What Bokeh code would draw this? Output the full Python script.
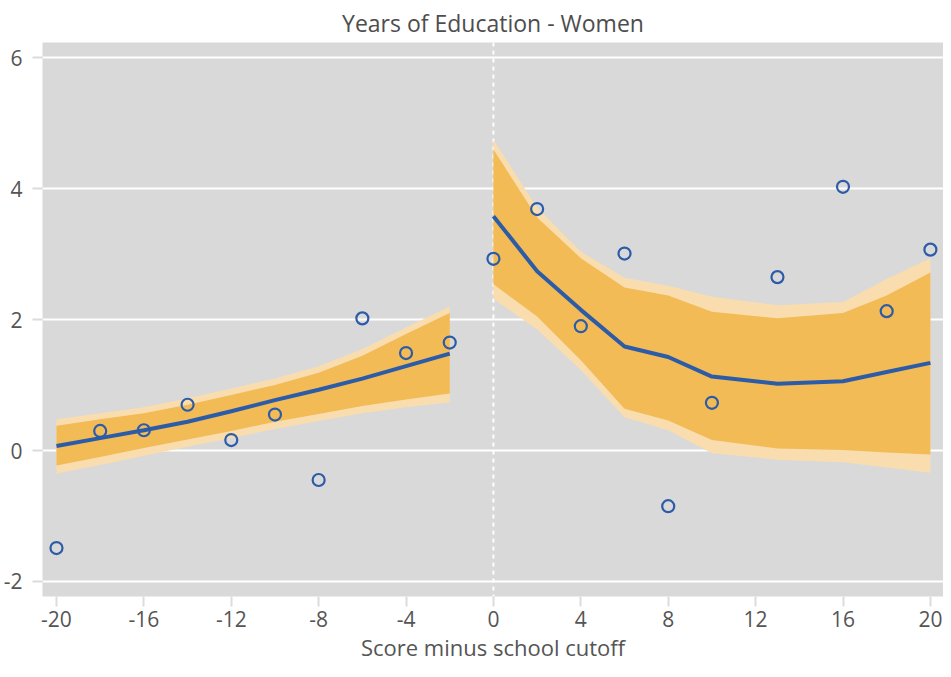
from bokeh.plotting import figure
from bokeh.models import ColumnDataSource, FixedTicker, Span, Range1d, Title
from bokeh.embed import file_html
from bokeh.resources import INLINE

# ---- data ----
left_x = [-20, -18, -16, -14, -12, -10, -8, -6, -4, -2]
left_pts = [-1.49, 0.30, 0.31, 0.70, 0.16, 0.55, -0.45, 2.02, 1.49, 1.65]
left_fit = [0.07, 0.19, 0.31, 0.44, 0.60, 0.77, 0.93, 1.10, 1.29, 1.48]
left_outer_hi = [0.48, 0.57, 0.66, 0.80, 0.95, 1.10, 1.29, 1.55, 1.88, 2.20]
left_inner_hi = [0.38, 0.48, 0.57, 0.70, 0.85, 1.00, 1.19, 1.45, 1.78, 2.10]
left_inner_lo = [-0.23, -0.10, 0.04, 0.17, 0.30, 0.44, 0.56, 0.68, 0.78, 0.87]
left_outer_lo = [-0.35, -0.22, -0.08, 0.06, 0.19, 0.33, 0.45, 0.57, 0.66, 0.74]

right_x = [0, 2, 4, 6, 8, 10, 13, 16, 18, 20]
right_pts = [2.93, 3.69, 1.90, 3.01, -0.85, 0.73, 2.65, 4.03, 2.13, 3.07]
right_fit = [3.58, 2.74, 2.15, 1.59, 1.43, 1.13, 1.02, 1.06, 1.20, 1.34]
right_outer_hi = [4.75, 3.71, 3.04, 2.64, 2.52, 2.35, 2.22, 2.27, 2.62, 2.94]
right_inner_hi = [4.60, 3.56, 2.94, 2.49, 2.37, 2.12, 2.02, 2.10, 2.37, 2.72]
right_inner_lo = [2.54, 2.05, 1.38, 0.64, 0.46, 0.16, 0.03, 0.01, -0.03, -0.06]
right_outer_lo = [2.32, 1.85, 1.23, 0.51, 0.31, -0.04, -0.14, -0.18, -0.26, -0.34]

x_ticks = [-20, -16, -12, -8, -4, 0, 4, 8, 12, 16, 20]
y_ticks = [-2, 0, 2, 4, 6]

title_text = "Years of Education - Women"
x_label = "Score minus school cutoff"

# ---- style ----
FONT = "Open Sans"
TXT = "#555555"
BLUE = "#2c5ba8"
INNER = "#f2bb56"
OUTER = "#f9ddae"

p = figure(width=943, height=661, output_backend="svg", toolbar_location=None,
           x_range=Range1d(-20.64, 20.6), y_range=Range1d(-2.23, 6.235),
           title=title_text, min_border_left=42, min_border_right=0,
           min_border_top=10, min_border_bottom=0)

p.background_fill_color = "#d9d9d9"
p.border_fill_color = "white"
p.outline_line_color = None

p.title.align = "center"
p.title.text_font = FONT
p.title.text_font_size = "23px"
p.title.text_font_style = "normal"
p.title.text_color = "#4d4d4d"
p.title.offset = 0
p.title.standoff = 8

p.xgrid.grid_line_color = None
p.ygrid.grid_line_color = "white"
p.ygrid.grid_line_width = 2
p.ygrid.ticker = FixedTicker(ticks=y_ticks)

for ax in (p.xaxis[0], p.yaxis[0]):
    ax.axis_line_color = None
    ax.major_tick_line_color = "#dcdcdc"
    ax.major_tick_line_width = 2
    ax.major_tick_out = 10
    ax.major_tick_in = 0
    ax.minor_tick_line_color = None
    ax.major_label_text_font = FONT
    ax.major_label_text_font_size = "21px"
    ax.major_label_text_color = TXT

p.xaxis.ticker = FixedTicker(ticks=x_ticks)
p.yaxis.ticker = FixedTicker(ticks=y_ticks)
p.xaxis.major_label_overrides = {t: str(t) for t in x_ticks}
p.yaxis.major_label_overrides = {t: str(t) for t in y_ticks}
p.xaxis.major_label_standoff = 4
p.yaxis.major_label_standoff = 10

xtitle = Title(text=x_label, align="center", text_font=FONT, text_font_size="22px",
               text_font_style="normal", text_color=TXT, standoff=0, offset=0)
p.add_layout(xtitle, "below")

vline = Span(location=0, dimension="height", line_color="white",
             line_width=2, line_dash="4 4", level="underlay")
p.add_layout(vline)

for xs, pts, fit, ohi, ihi, ilo, olo in [
    (left_x, left_pts, left_fit, left_outer_hi, left_inner_hi, left_inner_lo, left_outer_lo),
    (right_x, right_pts, right_fit, right_outer_hi, right_inner_hi, right_inner_lo, right_outer_lo),
]:
    src = ColumnDataSource(dict(x=xs, pts=pts, fit=fit, ohi=ohi, ihi=ihi, ilo=ilo, olo=olo))
    p.varea(x="x", y1="olo", y2="ohi", source=src, fill_color=OUTER)
    p.varea(x="x", y1="ilo", y2="ihi", source=src, fill_color=INNER)
    p.line(x="x", y="fit", source=src, line_color=BLUE, line_width=4)
    p.scatter(x="x", y="pts", source=src, marker="circle", size=12,
              fill_color=None, line_color=BLUE, line_width=2.2)

open("out.html", "w").write(file_html(p, INLINE))
